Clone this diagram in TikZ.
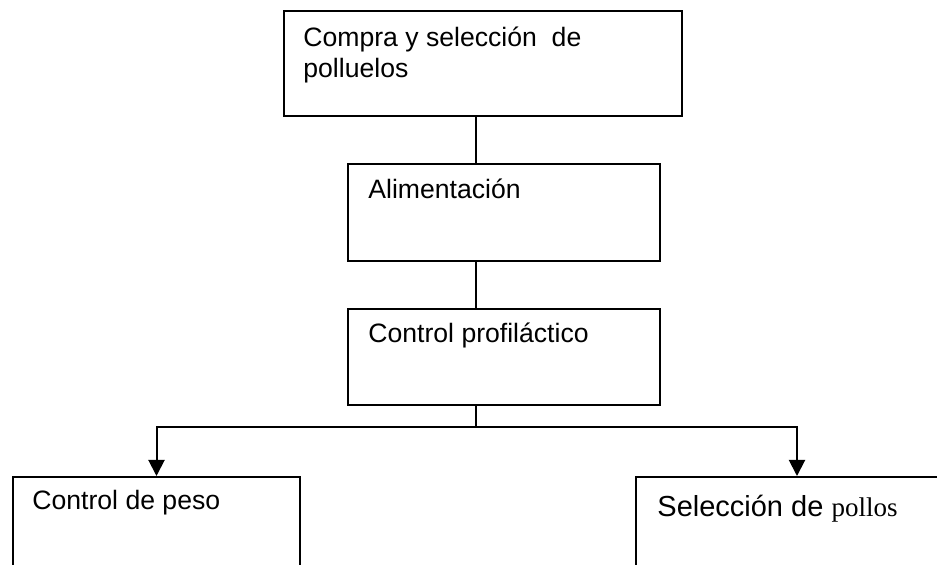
\documentclass[tikz,border=0pt]{standalone}
\usepackage{fontspec}
\setmainfont{Liberation Sans}
\newfontfamily\timesfont{Liberation Serif}
\usetikzlibrary{arrows.meta}

\begin{document}
\begin{tikzpicture}[
			x=0.5pt, y=-0.5pt
			,box/.style={draw, line width=1pt, anchor=north west, inner sep=0pt}
			,txt/.style={anchor=base west, inner sep=0pt, align=left, font=\fontsize{13.3}{15.5}\selectfont}
			,arr/.style={line width=1pt, -{Triangle[length=8pt,width=8pt]}}
			,con/.style={line width=1pt}
		]
			\useasboundingbox (0,0) rectangle (937,565);
			% boxes
			\node [box, minimum width=199pt, minimum height=52.5pt] (compra) at (283,10) {};
			\node [box, minimum width=156pt, minimum height=48.5pt] (alim) at (347,163) {};
			\node [box, minimum width=156pt, minimum height=48pt] (profi) at (347,308) {};
			\node [box, minimum width=143.5pt, minimum height=60pt] (peso) at (12,476) {};
			\node [box, minimum width=161pt, minimum height=60pt] (sel) at (635,476) {};
			% texts
			\node [txt] (compraT) at ([xshift=10pt,yshift=-34pt]compra.north west) {Compra y selección\ \ de\\polluelos};
			\node [txt] (alimT) at ([xshift=10.5pt,yshift=-18pt]alim.north west) {Alimentación};
			\node [txt] (profiT) at ([xshift=10.5pt,yshift=-17.5pt]profi.north west) {Control profiláctico};
			\node [txt] (pesoT) at ([xshift=10pt,yshift=-17pt]peso.north west) {Control de peso};
			\node [txt, font=\fontsize{14.5}{17}\selectfont] (selT) at ([xshift=11pt,yshift=-20.5pt]sel.north west) {Selección de {\timesfont\fontsize{13.5}{17}\selectfont pollos}};
			% connectors
			\coordinate (fork) at (476,427);
			\draw [con] (compra.south -| fork) -- (alim.north -| fork);
			\draw [con] (alim.south -| fork) -- (profi.north -| fork);
			\draw [con] (profi.south -| fork) -- (fork);
			\draw [arr] (fork) -| (peso.north);
			\draw [arr] (fork) -| (sel.north);
		\end{tikzpicture}
\end{document}
